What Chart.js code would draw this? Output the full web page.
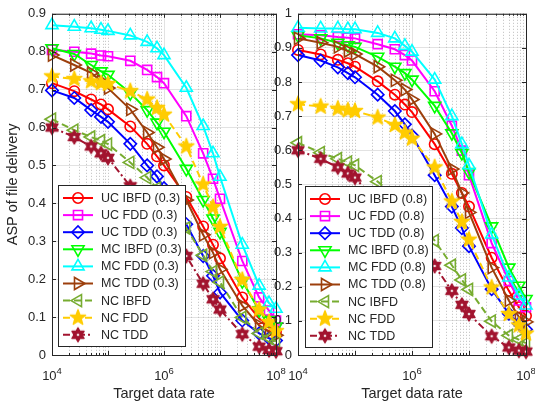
<!DOCTYPE html>
<html>
<head>
<meta charset="utf-8">
<script src="https://cdn.jsdelivr.net/npm/chart.js@4.4.1/dist/chart.umd.min.js"></script>
<style>
  html, body { margin: 0; padding: 0; background: #fff; }
  #wrap { position: relative; width: 535px; height: 407px; }
  #wrap canvas { position: absolute; left: 0; top: 0; }
</style>
</head>
<body>
<div id="wrap">
  <canvas id="chartLeft" width="535" height="407"></canvas>
  <canvas id="chartRight" width="535" height="407"></canvas>
</div>
<script>
// target data rates (x)
const rates = [1e4, 2.5e4, 5e4, 7.5e4, 1e5, 2.5e5, 5e5, 7.5e5, 1e6, 2.5e6, 5e6, 7.5e6, 1e7, 2.5e7, 5e7, 7.5e7, 1e8];

// left panel, parameter 0.3
const ucIbfd03 = [0.717, 0.696, 0.674, 0.661, 0.648, 0.603, 0.557, 0.524, 0.500, 0.417, 0.339, 0.291, 0.255, 0.152, 0.096, 0.078, 0.062];
const ucFdd03  = [0.805, 0.800, 0.795, 0.790, 0.788, 0.776, 0.752, 0.733, 0.717, 0.630, 0.532, 0.465, 0.412, 0.248, 0.152, 0.117, 0.091];
const ucTdd03  = [0.698, 0.678, 0.646, 0.628, 0.615, 0.557, 0.500, 0.471, 0.440, 0.345, 0.261, 0.209, 0.165, 0.091, 0.057, 0.044, 0.038];
const mcIbfd03 = [0.809, 0.794, 0.765, 0.748, 0.739, 0.691, 0.646, 0.613, 0.589, 0.491, 0.409, 0.360, 0.325, 0.195, 0.118, 0.092, 0.075];
const mcFdd03  = [0.870, 0.866, 0.862, 0.858, 0.855, 0.843, 0.826, 0.809, 0.791, 0.705, 0.604, 0.532, 0.470, 0.291, 0.183, 0.137, 0.122];
const mcTdd03  = [0.791, 0.765, 0.744, 0.722, 0.704, 0.648, 0.587, 0.548, 0.517, 0.409, 0.317, 0.270, 0.226, 0.130, 0.078, 0.061, 0.052];

// right panel, parameter 0.8
const ucIbfd08 = [0.894, 0.881, 0.865, 0.855, 0.845, 0.802, 0.763, 0.734, 0.712, 0.618, 0.531, 0.475, 0.435, 0.285, 0.188, 0.140, 0.115];
const ucFdd08  = [0.940, 0.937, 0.932, 0.930, 0.928, 0.911, 0.896, 0.879, 0.863, 0.773, 0.672, 0.599, 0.527, 0.328, 0.217, 0.160, 0.140];
const ucTdd08  = [0.879, 0.863, 0.843, 0.826, 0.814, 0.763, 0.715, 0.676, 0.643, 0.527, 0.435, 0.372, 0.319, 0.193, 0.121, 0.092, 0.075];
const mcIbfd08 = [0.937, 0.928, 0.915, 0.908, 0.903, 0.874, 0.845, 0.826, 0.807, 0.730, 0.650, 0.592, 0.536, 0.377, 0.256, 0.203, 0.164];
const mcFdd08  = [0.959, 0.957, 0.957, 0.955, 0.955, 0.944, 0.928, 0.906, 0.889, 0.807, 0.700, 0.618, 0.556, 0.353, 0.227, 0.174, 0.145];
const mcTdd08  = [0.928, 0.915, 0.903, 0.891, 0.882, 0.845, 0.805, 0.778, 0.749, 0.648, 0.545, 0.475, 0.418, 0.256, 0.160, 0.111, 0.097];

// no cooperation: same curves in both panels
const ncIbfd = [0.622, 0.593, 0.575, 0.565, 0.556, 0.508, 0.468, 0.440, 0.415, 0.335, 0.263, 0.220, 0.192, 0.099, 0.057, 0.045, 0.035];
const ncFdd  = [0.735, 0.728, 0.722, 0.717, 0.715, 0.696, 0.674, 0.652, 0.634, 0.550, 0.450, 0.390, 0.338, 0.198, 0.120, 0.087, 0.063];
const ncTdd  = [0.600, 0.575, 0.550, 0.532, 0.520, 0.445, 0.395, 0.365, 0.340, 0.261, 0.188, 0.147, 0.120, 0.055, 0.022, 0.013, 0.010];

const labelsLeft  = ['UC IBFD (0.3)', 'UC FDD (0.3)', 'UC TDD (0.3)', 'MC IBFD (0.3)', 'MC FDD (0.3)', 'MC TDD (0.3)', 'NC IBFD', 'NC FDD', 'NC TDD'];
const labelsRight = ['UC IBFD (0.8)', 'UC FDD (0.8)', 'UC TDD (0.8)', 'MC IBFD (0.8)', 'MC FDD (0.8)', 'MC TDD (0.8)', 'NC IBFD', 'NC FDD', 'NC TDD'];

const xTickExps   = [4, 6, 8];
const xMajorTicks = [1e4, 1e6, 1e8];
const yTicksLeft  = [0, 0.1, 0.2, 0.3, 0.4, 0.5, 0.6, 0.7, 0.8, 0.9];
const yTicksRight = [0, 0.1, 0.2, 0.3, 0.4, 0.5, 0.6, 0.7, 0.8, 0.9, 1];

const FONT = "'Liberation Sans', Arial, Helvetica, sans-serif";
const AXIS_COLOR = '#262626';
Chart.defaults.font.family = FONT;
Chart.defaults.color = AXIS_COLOR;

// star markers (pentagram / hexagram) as small canvases
function starMarker(points, outer, inner, color, hole) {
    const size = Math.ceil(outer * 2 + 4);
    const c = document.createElement('canvas');
    c.width = c.height = size;
    const g = c.getContext('2d');
    const cx = size / 2, cy = size / 2;
    g.beginPath();
    for (let k = 0; k < points * 2; k++) {
        const r = k % 2 ? inner : outer;
        const a = -Math.PI / 2 + k * Math.PI / points;
        const px = cx + r * Math.cos(a), py = cy + r * Math.sin(a);
        if (k === 0) g.moveTo(px, py); else g.lineTo(px, py);
    }
    g.closePath();
    g.fillStyle = color;
    g.fill();
    g.strokeStyle = color;
    g.lineWidth = 1.4;
    g.lineJoin = 'round';
    g.stroke();
    if (hole) {
        g.fillStyle = 'rgba(255,255,255,0.85)';
        g.beginPath();
        g.arc(cx, cy, hole, 0, Math.PI * 2);
        g.fill();
    }
    return c;
}

const pentagram = starMarker(5, 8, 3.3, '#FFCC00', 0);
const hexagram  = starMarker(6, 7, 4.0, '#A2142F', 1.3);

// one entry per series: colour, marker, dash
const styles = [
    { color: '#FF0000', marker: 'circle',   radius: 5.2, rot: 0,   dash: [] },
    { color: '#FF00FF', marker: 'rect',     radius: 6.4, rot: 0,   dash: [] },
    { color: '#0000FF', marker: 'rectRot',  radius: 6.2, rot: 0,   dash: [] },
    { color: '#00FF00', marker: 'triangle', radius: 7,   rot: 180, dash: [] },
    { color: '#00FFFF', marker: 'triangle', radius: 7,   rot: 0,   dash: [] },
    { color: '#9C3F0C', marker: 'triangle', radius: 7,   rot: 90,  dash: [] },
    { color: '#77AC30', marker: 'triangle', radius: 7,   rot: 270, dash: [7, 4] },
    { color: '#FFCC00', marker: pentagram,  radius: 7,   rot: 0,   dash: [7, 4] },
    { color: '#A2142F', marker: hexagram,   radius: 7,   rot: 0,   dash: [7, 3, 2, 3] }
];

const buildDatasets = (seriesList, labels) => seriesList.map((vals, i) => {
    const s = styles[i];
    return {
        label: labels[i],
        data: rates.map((x, j) => ({ x: x, y: vals[j] })),
        borderColor: s.color,
        borderWidth: 2,
        borderDash: s.dash,
        pointStyle: s.marker,
        pointRadius: s.radius,
        pointRotation: s.rot,
        pointBorderColor: s.color,
        pointBackgroundColor: 'rgba(0,0,0,0)',
        pointBorderWidth: 1.6,
        tension: 0,
        clip: false,
        order: -i
    };
});

// grid, box, ticks, x labels and legend drawn like the original figure
const makeFramePlugin = (legendBox) => ({
    id: 'matlabFrame',
    beforeDatasetsDraw(chart) {
        const ctx = chart.ctx;
        const { top, bottom } = chart.chartArea;
        const xs = chart.scales.x;
        ctx.save();
        ctx.strokeStyle = '#BDBDBD';
        ctx.lineWidth = 1;
        ctx.setLineDash([1, 2]);
        for (let e = 4; e < 8; e++) {
            for (let m = 1; m <= 9; m++) {
                if (m === 1 && e % 2 === 0) continue;
                const px = Math.round(xs.getPixelForValue(m * Math.pow(10, e))) + 0.5;
                ctx.beginPath();
                ctx.moveTo(px, top);
                ctx.lineTo(px, bottom);
                ctx.stroke();
            }
        }
        ctx.restore();
    },
    afterDatasetsDraw(chart) {
        const ctx = chart.ctx;
        const { left, right, top, bottom } = chart.chartArea;
        const xs = chart.scales.x, ys = chart.scales.y;
        ctx.save();
        ctx.strokeStyle = AXIS_COLOR;
        ctx.lineWidth = 1;
        ctx.strokeRect(left + 0.5, top + 0.5, right - left, bottom - top);

        // y ticks, inward on both sides
        ys.ticks.forEach(t => {
            const py = Math.round(ys.getPixelForValue(t.value)) + 0.5;
            ctx.beginPath();
            ctx.moveTo(left, py); ctx.lineTo(left + 4, py);
            ctx.moveTo(right, py); ctx.lineTo(right - 4, py);
            ctx.stroke();
        });
        // x ticks (major and minor)
        for (let e = 4; e <= 8; e++) {
            for (let m = 1; m <= 9; m++) {
                if (e === 8 && m > 1) break;
                const len = m === 1 ? 4 : 2;
                const px = Math.round(xs.getPixelForValue(m * Math.pow(10, e))) + 0.5;
                ctx.beginPath();
                ctx.moveTo(px, bottom); ctx.lineTo(px, bottom - len);
                ctx.moveTo(px, top); ctx.lineTo(px, top + len);
                ctx.stroke();
            }
        }

        // x tick labels 10^k
        ctx.fillStyle = AXIS_COLOR;
        ctx.textBaseline = 'alphabetic';
        ctx.textAlign = 'left';
        xTickExps.forEach(e => {
            const cx = xs.getPixelForValue(Math.pow(10, e));
            ctx.font = '13px ' + FONT;
            const wBase = ctx.measureText('10').width;
            ctx.font = '9.5px ' + FONT;
            const wExp = ctx.measureText(String(e)).width;
            const x0 = cx - (wBase + wExp) / 2;
            ctx.font = '13px ' + FONT;
            ctx.fillText('10', x0, bottom + 25);
            ctx.font = '9.5px ' + FONT;
            ctx.fillText(String(e), x0 + wBase, bottom + 18.5);
        });

        // legend
        const bx = left + legendBox.dx, by = legendBox.y;
        ctx.fillStyle = '#fff';
        ctx.fillRect(bx, by, legendBox.w, legendBox.h);
        ctx.strokeStyle = AXIS_COLOR;
        ctx.lineWidth = 1;
        ctx.strokeRect(bx + 0.5, by + 0.5, legendBox.w, legendBox.h);
        ctx.font = '12.5px ' + FONT;
        ctx.textBaseline = 'middle';
        chart.data.datasets.forEach((ds, i) => {
            const cy = by + 13 + i * 17.1;
            const x0 = bx + 5, x1 = bx + 35;
            ctx.strokeStyle = ds.borderColor;
            ctx.lineWidth = ds.borderWidth;
            ctx.setLineDash(ds.borderDash);
            ctx.beginPath();
            ctx.moveTo(x0, cy); ctx.lineTo(x1, cy);
            ctx.stroke();
            ctx.setLineDash([]);
            ctx.fillStyle = ds.pointBackgroundColor;
            ctx.lineWidth = ds.pointBorderWidth;
            Chart.helpers.drawPoint(ctx, {
                pointStyle: ds.pointStyle,
                rotation: ds.pointRotation,
                radius: ds.pointRadius,
                borderWidth: ds.pointBorderWidth
            }, (x0 + x1) / 2, cy);
            ctx.fillStyle = AXIS_COLOR;
            ctx.fillText(ds.label, bx + 43, cy + 0.5);
        });
        ctx.restore();
    }
});

const makeChart = (id, datasets, yTicks, padding, yWidth, yTitle, legendBox) => new Chart(document.getElementById(id), {
    type: 'line',
    data: { datasets: datasets },
    options: {
        responsive: false,
        animation: false,
        layout: { padding: padding },
        plugins: { legend: { display: false }, tooltip: { enabled: false } },
        scales: {
            x: {
                type: 'logarithmic',
                min: 1e4,
                max: 1e8,
                afterBuildTicks: scale => { scale.ticks = xMajorTicks.map(v => ({ value: v })); },
                afterFit: scale => { scale.height = 52; },
                ticks: { display: false },
                grid: { color: '#E2E2E2', lineWidth: 1, drawTicks: false },
                border: { display: false },
                title: { display: true, text: 'Target data rate', color: AXIS_COLOR, font: { size: 14.5 } }
            },
            y: {
                min: 0,
                max: yTicks[yTicks.length - 1],
                afterBuildTicks: scale => { scale.ticks = yTicks.map(v => ({ value: v })); },
                afterFit: scale => { scale.width = yWidth; },
                ticks: {
                    padding: 6,
                    color: AXIS_COLOR,
                    font: { size: 13 },
                    callback: v => String(Math.round(v * 10) / 10)
                },
                grid: { color: '#E2E2E2', lineWidth: 1, drawTicks: false },
                border: { display: false },
                title: { display: !!yTitle, text: yTitle, color: AXIS_COLOR, font: { size: 14.5 } }
            }
        }
    },
    plugins: [makeFramePlugin(legendBox)]
});

makeChart('chartLeft',
    buildDatasets([ucIbfd03, ucFdd03, ucTdd03, mcIbfd03, mcFdd03, mcTdd03, ncIbfd, ncFdd, ncTdd], labelsLeft),
    yTicksLeft, { left: 0, right: 259, top: 10, bottom: 0 }, 52, 'ASP of file delivery',
    { dx: 6, y: 185, w: 127, h: 161 });

makeChart('chartRight',
    buildDatasets([ucIbfd08, ucFdd08, ucTdd08, mcIbfd08, mcFdd08, mcTdd08, ncIbfd, ncFdd, ncTdd], labelsRight),
    yTicksRight, { left: 268, right: 9, top: 10, bottom: 0 }, 30, '',
    { dx: 7, y: 186, w: 127, h: 161 });
</script>
</body>
</html>
